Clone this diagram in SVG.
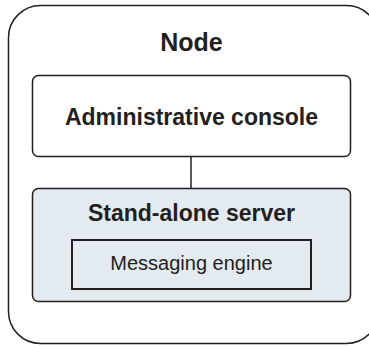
<svg xmlns="http://www.w3.org/2000/svg" width="369" height="346" viewBox="0 0 369 346">
<style>
.box{stroke:#231f20;stroke-width:1.5}
.b{font-family:"Liberation Sans",Arial,sans-serif;font-weight:bold;fill:#231f20;text-anchor:middle}
.r{font-family:"Liberation Sans",Arial,sans-serif;fill:#231f20;text-anchor:middle}
</style>
<rect width="369" height="346" fill="#fff"/>
<g id="node">
<rect class="box" x="8.5" y="5.5" width="370" height="338" rx="32" fill="#fff"/>
<text class="b" x="191.5" y="51" font-size="25">Node</text>
</g>
<g id="connectors">
<line x1="191" y1="157" x2="191" y2="188" stroke="#231f20" stroke-width="1.5"/>
</g>
<g id="admin">
<rect class="box" x="32.5" y="75.5" width="318" height="81" rx="6" fill="#fff"/>
<text class="b" x="191.5" y="125" font-size="23">Administrative console</text>
</g>
<g id="server">
<rect class="box" x="32.5" y="188.5" width="318" height="113" rx="6" fill="#e3eaf0"/>
<text class="b" x="191.5" y="221" font-size="23">Stand-alone server</text>
</g>
<g id="engine">
<rect x="72" y="240" width="239" height="49" fill="none" stroke="#231f20" stroke-width="2"/>
<text class="r" x="191.5" y="270" font-size="20">Messaging engine</text>
</g>
</svg>
